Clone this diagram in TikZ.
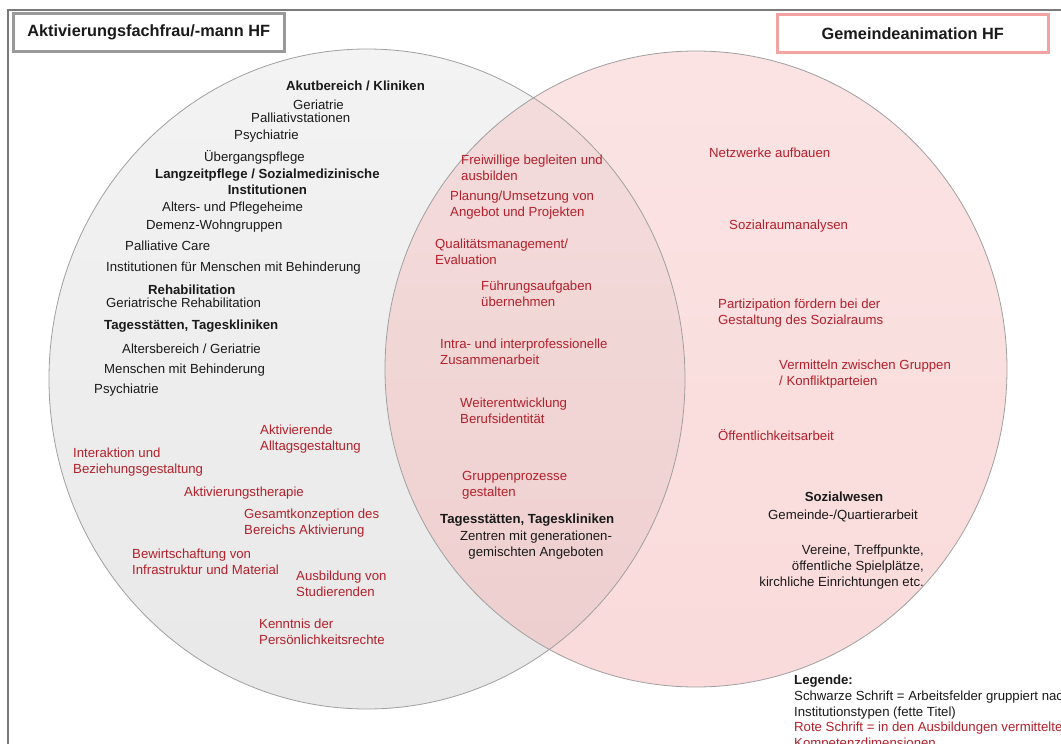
\documentclass[tikz,border=0pt]{standalone}
\usepackage{fontspec}
\setmainfont{Liberation Sans}
\definecolor{redtxt}{HTML}{B3202B}
\definecolor{blacktxt}{HTML}{1A1A1A}
\definecolor{lefttop}{HTML}{F3F3F3}
\definecolor{leftbot}{HTML}{E8E8E8}
\definecolor{rightfill}{HTML}{F5B0B0}
\definecolor{circline}{HTML}{A0A0A0}
\definecolor{frameline}{HTML}{7A7A7A}
\definecolor{lbox}{HTML}{999999}
\definecolor{rbox}{HTML}{F4A3A3}
\tikzset{
  txt/.style={font=\fontsize{13.2}{16}\selectfont, inner sep=0pt, align=left, anchor=west},
  comp/.style={txt, text=redtxt},
  field/.style={txt, text=blacktxt},
  fieldhead/.style={field, font=\fontsize{13.2}{16}\selectfont\bfseries},
  titlebox/.style={draw, line width=2.5pt, fill=white, minimum height=38, inner sep=0pt,
    font=\fontsize{16.3}{18}\selectfont\bfseries, text=blacktxt},
}
\begin{document}
\begin{tikzpicture}[x=1pt,y=-1pt]
\useasboundingbox (0,0) rectangle (1061,744);
\clip (0,0) rectangle (1061,744);
\fill[white] (0,0) rectangle (1061,744);
% frame
\draw[frameline, line width=1.5pt] (8,10) rectangle (1200,900);
% circles
\shade[top color=lefttop, bottom color=leftbot] (367,379) ellipse [x radius=318, y radius=330];
\shade[top color=rightfill!75!white, bottom color=rightfill, fill opacity=0.46] (696,369) ellipse [x radius=311, y radius=318];
\draw[circline, line width=0.8pt] (367,379) ellipse [x radius=318, y radius=330];
\draw[circline, line width=0.8pt] (696,369) ellipse [x radius=311, y radius=318];
% title boxes
\node[titlebox, draw=lbox, minimum width=271, anchor=north west] (tl) at (12,12) {Aktivierungsfachfrau/-mann HF};
\node[titlebox, draw=rbox, minimum width=271, anchor=north west] (tr) at (776,13) {Gemeindeanimation HF};
% left black
\node[fieldhead] (f1) at (286,86) {Akutbereich / Kliniken};
\node[field] (f2) at (293,105) {Geriatrie};
\node[field] (f3) at (251,118) {Palliativstationen};
\node[field] (f4) at (234,136) {Psychiatrie};
\node[field] (f5) at (204,157) {Übergangspflege};
\node[fieldhead, align=center] (f6) at (155,182) {Langzeitpflege / Sozialmedizinische\\Institutionen};
\node[field] (f7) at (162,208) {Alters- und Pflegeheime};
\node[field] (f8) at (146,226) {Demenz-Wohngruppen};
\node[field] (f9) at (125,246) {Palliative Care};
\node[field] (f10) at (106,268) {Institutionen für Menschen mit Behinderung};
\node[fieldhead] (f11) at (148,290) {Rehabilitation};
\node[field] (f12) at (106,303) {Geriatrische Rehabilitation};
\node[fieldhead] (f13) at (104,326) {Tagesstätten, Tageskliniken};
\node[field] (f14) at (122,349) {Altersbereich / Geriatrie};
\node[field] (f15) at (104,370) {Menschen mit Behinderung};
\node[field] (f16) at (94,390) {Psychiatrie};
% left red
\node[comp] (c1) at (260,439) {Aktivierende\\Alltagsgestaltung};
\node[comp] (c2) at (73,462) {Interaktion und\\Beziehungsgestaltung};
\node[comp] (c3) at (184,493) {Aktivierungstherapie};
\node[comp] (c4) at (244,523) {Gesamtkonzeption des\\Bereichs Aktivierung};
\node[comp] (c5) at (132,562) {Bewirtschaftung von\\Infrastruktur und Material};
\node[comp] (c6) at (296,584) {Ausbildung von\\Studierenden};
\node[comp] (c7) at (259,632) {Kenntnis der\\Persönlichkeitsrechte};
% lens red
\node[comp] (m1) at (461,168) {Freiwillige begleiten und\\ausbilden};
\node[comp] (m2) at (450,205) {Planung/Umsetzung von\\Angebot und Projekten};
\node[comp] (m3) at (435,252) {Qualitätsmanagement/\\Evaluation};
\node[comp] (m4) at (481,294) {Führungsaufgaben\\übernehmen};
\node[comp] (m5) at (440,352) {Intra- und interprofessionelle\\Zusammenarbeit};
\node[comp] (m6) at (460,411) {Weiterentwicklung\\Berufsidentität};
\node[comp] (m7) at (462,485) {Gruppenprozesse\\gestalten};
\node[fieldhead] (m8) at (440,520) {Tagesstätten, Tageskliniken};
\node[field, align=center, anchor=center] (m9) at (536,545) {Zentren mit generationen-\\gemischten Angeboten};
% right red
\node[comp] (r1) at (709,153) {Netzwerke aufbauen};
\node[comp] (r2) at (729,226) {Sozialraumanalysen};
\node[comp] (r3) at (718,313) {Partizipation fördern bei der\\Gestaltung des Sozialraums};
\node[comp] (r4) at (779,374) {Vermitteln zwischen Gruppen\\/ Konfliktparteien};
\node[comp] (r5) at (718,435) {Öffentlichkeitsarbeit};
% right black
\node[fieldhead, anchor=center] (s1) at (844,497) {Sozialwesen};
\node[field, anchor=center] (s2) at (843,516) {Gemeinde-/Quartierarbeit};
\node[field, align=right, anchor=east] (s3) at (924,567) {Vereine, Treffpunkte,\\öffentliche Spielplätze,\\kirchliche Einrichtungen etc.};
% legend
\node[fieldhead, anchor=north west] (l1) at (794,674.5) {Legende:};
\node[field, anchor=north west] (l2) at (794,690.5) {Schwarze Schrift = Arbeitsfelder gruppiert nach\\Institutionstypen (fette Titel)};
\node[comp, anchor=north west] (l3) at (794,722) {Rote Schrift = in den Ausbildungen vermittelten\\Kompetenzdimensionen};
\end{tikzpicture}
\end{document}
